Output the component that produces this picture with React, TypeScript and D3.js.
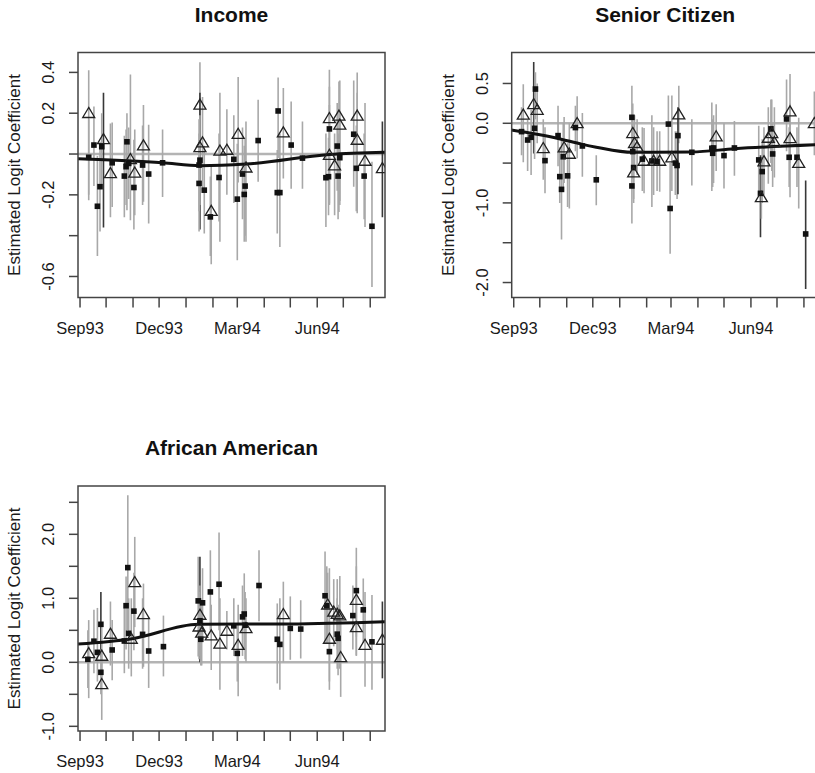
import React from "react";
import * as d3 from "d3";

type P = [string, number, number, number, string, number];

// [date, estimate, lower, upper, shape (s = filled square, t = open triangle), darkBar]
const incomePoints: P[] = [
  ["1993-09-11", 0.2, -0.226, 0.41, "t", 0],
  ["1993-09-11", -0.016, -0.2, 0.17, "s", 0],
  ["1993-09-17", 0.044, -0.157, 0.233, "s", 0],
  ["1993-09-21", -0.256, -0.5, -0.01, "s", 0],
  ["1993-09-24", -0.16, -0.38, 0.06, "s", 0],
  ["1993-09-28", 0.072, -0.36, 0.3, "t", 1],
  ["1993-09-26", 0.036, -0.15, 0.2, "s", 0],
  ["1993-10-06", -0.095, -0.31, 0.15, "t", 0],
  ["1993-10-08", -0.043, -0.26, 0.155, "s", 0],
  ["1993-10-22", -0.108, -0.31, 0.09, "s", 0],
  ["1993-10-25", 0.06, -0.275, 0.2, "s", 0],
  ["1993-10-24", -0.062, -0.25, 0.12, "s", 0],
  ["1993-10-29", -0.026, -0.325, 0.39, "t", 0],
  ["1993-10-27", -0.046, -0.22, 0.13, "s", 0],
  ["1993-11-03", -0.092, -0.3, 0.12, "t", 0],
  ["1993-11-02", -0.164, -0.37, 0.07, "s", 0],
  ["1993-11-13", 0.041, -0.234, 0.24, "t", 0],
  ["1993-11-12", -0.054, -0.25, 0.14, "s", 0],
  ["1993-11-19", -0.098, -0.34, 0.143, "s", 0],
  ["1993-12-05", -0.043, -0.21, 0.12, "s", 0],
  ["1994-01-17", 0.241, -0.02, 0.45, "t", 0],
  ["1994-01-17", 0.033, -0.37, 0.3, "t", 1],
  ["1994-01-20", 0.056, -0.18, 0.28, "t", 0],
  ["1994-01-16", -0.144, -0.38, 0.1, "s", 0],
  ["1994-01-16", -0.054, -0.28, 0.17, "s", 0],
  ["1994-01-17", -0.03, -0.25, 0.19, "s", 0],
  ["1994-01-22", -0.177, -0.39, 0.04, "s", 0],
  ["1994-01-30", -0.28, -0.54, -0.05, "t", 0],
  ["1994-01-29", -0.308, -0.5, -0.11, "s", 0],
  ["1994-02-09", 0.016, -0.43, 0.3, "t", 0],
  ["1994-02-08", -0.115, -0.33, 0.1, "s", 0],
  ["1994-02-17", 0.02, -0.2, 0.22, "t", 0],
  ["1994-02-25", -0.026, -0.24, 0.19, "s", 0],
  ["1994-03-02", 0.098, -0.14, 0.377, "t", 0],
  ["1994-03-01", -0.221, -0.52, 0.05, "s", 0],
  ["1994-03-07", -0.098, -0.32, 0.13, "s", 0],
  ["1994-03-11", -0.067, -0.43, 0.16, "t", 0],
  ["1994-03-09", -0.198, -0.43, 0.04, "s", 0],
  ["1994-03-10", -0.157, -0.4, 0.08, "s", 0],
  ["1994-03-25", 0.066, -0.136, 0.266, "s", 0],
  ["1994-04-17", 0.211, -0.02, 0.375, "s", 0],
  ["1994-04-16", -0.189, -0.39, 0.02, "s", 0],
  ["1994-04-19", -0.189, -0.456, 0.1, "s", 0],
  ["1994-04-23", 0.105, -0.12, 0.323, "t", 0],
  ["1994-05-02", 0.044, -0.17, 0.257, "s", 0],
  ["1994-05-15", -0.02, -0.17, 0.16, "s", 0],
  ["1994-06-11", -0.116, -0.357, 0.1, "s", 0],
  ["1994-06-14", -0.111, -0.3, 0.08, "s", 0],
  ["1994-06-15", 0.175, -0.243, 0.413, "t", 0],
  ["1994-06-15", 0.123, -0.1, 0.33, "s", 0],
  ["1994-06-15", -0.005, -0.25, 0.24, "t", 0],
  ["1994-06-21", -0.057, -0.3, 0.1, "t", 0],
  ["1994-06-26", 0.187, -0.284, 0.356, "t", 0],
  ["1994-06-27", 0.143, -0.25, 0.36, "t", 0],
  ["1994-06-24", 0.039, -0.18, 0.25, "s", 0],
  ["1994-06-25", -0.108, -0.32, 0.1, "s", 0],
  ["1994-06-27", -0.018, -0.23, 0.2, "s", 0],
  ["1994-07-17", 0.187, -0.29, 0.4, "t", 0],
  ["1994-07-13", 0.097, -0.16, 0.36, "s", 0],
  ["1994-07-17", 0.069, -0.16, 0.3, "t", 0],
  ["1994-07-16", -0.07, -0.28, 0.14, "s", 0],
  ["1994-07-26", -0.034, -0.357, 0.25, "t", 0],
  ["1994-07-25", -0.108, -0.32, 0.1, "s", 0],
  ["1994-08-03", -0.354, -0.652, -0.038, "s", 0],
  ["1994-08-15", -0.07, -0.31, 0.16, "t", 1],
];

const seniorPoints: P[] = [
  ["1993-09-12", 0.105, -0.49, 0.49, "t", 0],
  ["1993-09-10", -0.105, -0.4, 0.2, "s", 0],
  ["1993-09-17", -0.21, -0.6, 0.04, "s", 0],
  ["1993-09-21", -0.176, -0.65, 0.17, "s", 0],
  ["1993-09-24", 0.238, -0.38, 0.77, "t", 1],
  ["1993-09-26", 0.43, 0.05, 0.64, "s", 0],
  ["1993-09-28", 0.167, -0.25, 0.5, "t", 0],
  ["1993-09-25", -0.063, -0.45, 0.3, "s", 0],
  ["1993-10-05", -0.314, -0.71, 0.05, "t", 0],
  ["1993-10-07", -0.469, -0.88, -0.05, "s", 0],
  ["1993-10-22", -0.155, -0.54, 0.22, "s", 0],
  ["1993-10-24", -0.67, -1.0, -0.3, "s", 0],
  ["1993-10-26", -0.83, -1.46, -0.2, "s", 0],
  ["1993-10-29", -0.305, -0.75, 0.08, "t", 0],
  ["1993-10-28", -0.42, -0.85, 0.0, "s", 0],
  ["1993-11-04", -0.385, -1.07, 0.0, "t", 0],
  ["1993-11-02", -0.66, -1.05, -0.25, "s", 0],
  ["1993-11-13", 0.0, -0.44, 0.34, "t", 0],
  ["1993-11-11", -0.054, -0.35, 0.22, "s", 0],
  ["1993-11-19", -0.285, -0.67, 0.13, "s", 0],
  ["1993-12-05", -0.71, -1.03, -0.4, "s", 0],
  ["1994-01-15", 0.075, -0.3, 0.47, "s", 0],
  ["1994-01-16", -0.125, -0.5, 0.25, "t", 0],
  ["1994-01-18", -0.25, -0.6, 0.1, "t", 0],
  ["1994-01-21", -0.3, -0.65, 0.05, "t", 0],
  ["1994-01-16", -0.356, -0.7, 0.0, "s", 0],
  ["1994-01-17", -0.556, -0.95, -0.15, "s", 0],
  ["1994-01-17", -0.62, -1.0, -0.25, "t", 0],
  ["1994-01-15", -0.787, -1.26, -0.33, "s", 0],
  ["1994-01-29", -0.473, -0.88, -0.06, "t", 0],
  ["1994-01-27", -0.45, -0.85, -0.05, "s", 0],
  ["1994-02-07", -0.473, -1.05, 0.1, "s", 0],
  ["1994-02-09", -0.473, -0.9, -0.05, "t", 0],
  ["1994-02-16", -0.473, -0.86, -0.1, "t", 0],
  ["1994-02-13", -0.48, -0.85, -0.1, "s", 0],
  ["1994-03-02", -0.43, -0.85, 0.35, "t", 0],
  ["1994-02-28", -1.07, -1.64, -0.5, "s", 0],
  ["1994-02-26", -0.01, -0.4, 0.35, "s", 0],
  ["1994-03-06", -0.5, -0.9, -0.1, "s", 0],
  ["1994-03-08", -0.53, -0.95, -0.1, "s", 0],
  ["1994-03-10", 0.109, -0.25, 0.47, "t", 0],
  ["1994-03-09", -0.155, -0.89, 0.2, "s", 1],
  ["1994-03-25", -0.364, -0.78, 0.05, "s", 0],
  ["1994-04-17", -0.314, -0.85, 0.26, "s", 0],
  ["1994-04-18", -0.377, -0.8, 0.05, "s", 0],
  ["1994-04-22", -0.167, -0.6, 0.24, "t", 0],
  ["1994-04-19", -0.31, -0.75, 0.1, "s", 0],
  ["1994-05-01", -0.406, -0.82, 0.0, "s", 0],
  ["1994-05-13", -0.31, -0.66, 0.03, "s", 0],
  ["1994-06-10", -0.46, -0.9, -0.03, "s", 0],
  ["1994-06-14", -0.607, -1.0, -0.2, "s", 0],
  ["1994-06-12", -0.88, -1.43, -0.4, "s", 1],
  ["1994-06-13", -0.93, -1.2, -0.6, "t", 0],
  ["1994-06-16", -0.48, -0.9, -0.05, "t", 0],
  ["1994-06-21", -0.184, -0.76, 0.2, "t", 0],
  ["1994-06-24", -0.07, -0.5, 0.3, "s", 0],
  ["1994-06-25", -0.126, -0.6, 0.3, "t", 0],
  ["1994-06-28", -0.24, -0.68, 0.2, "t", 0],
  ["1994-06-26", -0.385, -0.8, 0.0, "s", 0],
  ["1994-07-12", 0.054, -0.35, 0.55, "s", 0],
  ["1994-07-16", 0.146, -0.5, 0.62, "t", 0],
  ["1994-07-16", -0.188, -0.93, 0.25, "t", 0],
  ["1994-07-15", -0.427, -0.8, -0.05, "s", 0],
  ["1994-07-24", -0.427, -0.8, -0.05, "s", 0],
  ["1994-07-26", -0.5, -1.07, 0.07, "t", 0],
  ["1994-08-03", -1.39, -2.08, -0.72, "s", 1],
  ["1994-08-13", 0.0, -0.4, 0.4, "t", 0],
];

const africanPoints: P[] = [
  ["1993-09-11", 0.14, -0.56, 0.66, "t", 0],
  ["1993-09-10", 0.047, -0.4, 0.5, "s", 0],
  ["1993-09-17", 0.33, -0.17, 0.82, "s", 0],
  ["1993-09-21", 0.156, -0.3, 0.85, "s", 0],
  ["1993-09-25", 0.594, 0.08, 1.1, "s", 1],
  ["1993-09-26", 0.1, -0.3, 0.55, "t", 0],
  ["1993-09-25", -0.156, -0.5, 0.2, "s", 0],
  ["1993-09-26", -0.344, -0.9, 0.2, "t", 0],
  ["1993-10-06", 0.443, -0.05, 0.95, "t", 0],
  ["1993-10-08", 0.193, -0.28, 0.66, "s", 0],
  ["1993-10-22", 0.333, -0.17, 0.85, "s", 0],
  ["1993-10-24", 0.885, 0.2, 1.34, "s", 0],
  ["1993-10-26", 1.48, 0.5, 2.61, "s", 0],
  ["1993-10-27", 0.453, -0.1, 1.0, "s", 0],
  ["1993-10-30", 0.365, -0.22, 1.0, "t", 0],
  ["1993-11-03", 1.25, 0.55, 1.96, "t", 0],
  ["1993-11-02", 0.8, 0.19, 1.4, "s", 0],
  ["1993-11-13", 0.75, -0.07, 1.23, "t", 0],
  ["1993-11-12", 0.437, -0.1, 1.0, "s", 0],
  ["1993-11-19", 0.177, -0.4, 0.71, "s", 0],
  ["1993-12-06", 0.245, -0.22, 0.73, "s", 0],
  ["1994-01-15", 0.96, 0.09, 1.65, "s", 0],
  ["1994-01-17", 0.74, 0.0, 1.65, "t", 1],
  ["1994-01-16", 0.557, 0.05, 1.1, "t", 0],
  ["1994-01-17", 0.65, 0.1, 1.2, "s", 0],
  ["1994-01-18", 0.36, -0.05, 0.8, "s", 0],
  ["1994-01-20", 0.93, 0.4, 1.47, "s", 0],
  ["1994-01-19", 0.46, -0.05, 1.0, "t", 0],
  ["1994-01-30", 0.417, -0.12, 0.9, "t", 0],
  ["1994-01-29", 1.1, 0.5, 1.75, "s", 0],
  ["1994-02-09", 0.29, -0.43, 1.0, "t", 0],
  ["1994-02-08", 1.22, 0.5, 2.03, "s", 0],
  ["1994-02-17", 0.49, 0.2, 0.8, "t", 0],
  ["1994-02-25", 0.57, 0.1, 1.0, "s", 0],
  ["1994-03-02", 0.27, -0.53, 0.9, "t", 0],
  ["1994-03-01", 0.14, -0.3, 0.6, "s", 0],
  ["1994-03-07", 0.71, 0.1, 1.2, "s", 0],
  ["1994-03-09", 0.755, 0.2, 1.39, "s", 0],
  ["1994-03-11", 0.53, 0.0, 1.0, "t", 0],
  ["1994-03-10", 0.58, 0.05, 1.1, "s", 0],
  ["1994-03-26", 1.2, 0.64, 1.75, "s", 0],
  ["1994-04-16", 0.36, -0.33, 0.92, "s", 0],
  ["1994-04-19", 0.28, -0.43, 1.0, "s", 0],
  ["1994-04-23", 0.75, 0.0, 1.26, "t", 0],
  ["1994-05-01", 0.53, 0.04, 1.03, "s", 0],
  ["1994-05-13", 0.52, 0.06, 0.97, "s", 0],
  ["1994-06-10", 1.04, 0.3, 1.73, "s", 0],
  ["1994-06-12", 0.885, 0.3, 1.5, "s", 0],
  ["1994-06-13", 0.9, 0.3, 1.4, "t", 0],
  ["1994-06-15", 0.167, -0.3, 0.65, "s", 0],
  ["1994-06-15", 0.365, -0.43, 1.47, "t", 0],
  ["1994-06-20", 0.79, 0.25, 1.3, "t", 0],
  ["1994-06-24", 0.755, 0.2, 1.3, "t", 0],
  ["1994-06-27", 0.73, -0.1, 1.35, "t", 0],
  ["1994-06-24", 0.44, -0.1, 1.0, "s", 0],
  ["1994-06-25", 0.375, -0.2, 0.9, "s", 0],
  ["1994-06-28", 0.078, -0.54, 0.65, "t", 0],
  ["1994-07-12", 0.73, 0.2, 1.2, "s", 0],
  ["1994-07-16", 1.12, 0.11, 1.79, "s", 0],
  ["1994-07-16", 0.974, 0.4, 1.5, "t", 0],
  ["1994-07-16", 0.547, 0.1, 1.0, "t", 0],
  ["1994-07-24", 0.82, 0.3, 1.31, "s", 0],
  ["1994-07-26", 0.27, -0.38, 1.1, "t", 0],
  ["1994-08-03", 0.32, -0.43, 1.05, "s", 0],
  ["1994-08-15", 0.35, -0.25, 0.95, "t", 1],
];

// smoothed trend lines [date, value]
const incomeTrend: [string, number][] = [
  ["1993-08-29", -0.023], ["1993-12-05", -0.043], ["1994-01-17", -0.057],
  ["1994-03-11", -0.049], ["1994-06-15", -0.002], ["1994-08-18", 0.009],
];
const seniorTrend: [string, number][] = [
  ["1993-08-29", -0.085], ["1993-10-22", -0.19], ["1993-11-19", -0.265],
  ["1993-12-05", -0.3], ["1994-01-16", -0.365], ["1994-03-25", -0.36],
  ["1994-05-13", -0.32], ["1994-08-18", -0.268],
];
const africanTrend: [string, number][] = [
  ["1993-08-29", 0.285], ["1993-10-31", 0.37], ["1994-01-15", 0.595],
  ["1994-05-01", 0.6], ["1994-08-18", 0.635],
];

const incomeYTicks = [0.4, 0.2, 0, -0.2, -0.4, -0.6];
const incomeYLabels = ["0.4", "0.2", "", "-0.2", "", "-0.6"];
const seniorYTicks = [0.5, 0, -0.5, -1, -1.5, -2];
const seniorYLabels = ["0.5", "0.0", "", "-1.0", "", "-2.0"];
const africanYTicks = [2.5, 2, 1.5, 1, 0.5, 0, -0.5, -1];
const africanYLabels = ["", "2.0", "", "1.0", "", "0.0", "", "-1.0"];
const xLabelMonths = ["Sep93", "Dec93", "Mar94", "Jun94"];

const parse = d3.timeParse("%Y-%m-%d");
const parseH = d3.timeParse("%Y-%m-%d %H");
const xDomain = [parseH("1993-08-29 16")!, parseH("1994-08-18 00")!];
const fmt = d3.timeFormat("%b%y");
const FONT = "'Liberation Sans', Arial, Helvetica, sans-serif";

type Cfg = {
  id: string;
  title: string;
  points: P[];
  trend: [string, number][];
  yDomain: [number, number];
  yTicks: number[];
  yLabels: string[];
  left: number;
  top: number;
};

const W = 307;
const H = 245;

function Panel({ cfg }: { cfg: Cfg }) {
  const { left, top } = cfg;
  const x = d3.scaleTime().domain(xDomain).range([left, left + W]);
  const y = d3.scaleLinear().domain(cfg.yDomain).range([top + H, top]);
  const months = d3.timeMonth.range(new Date(1993, 8, 1), new Date(1994, 8, 1));
  const line = d3
    .line<[string, number]>()
    .x((d) => x(parse(d[0])!))
    .y((d) => y(d[1]))
    .curve(d3.curveMonotoneX);
  const bottom = top + H;
  const cx = left + W / 2;
  const cy = top + H / 2;
  const tri = (px: number, py: number) =>
    `M${px},${py - 5.8}L${px + 6},${py + 4.3}L${px - 6},${py + 4.3}Z`;
  return (
    <g>
      <defs>
        <clipPath id={cfg.id}>
          <rect x={left} y={top} width={W} height={H} />
        </clipPath>
      </defs>
      <text x={cx} y={top - 31} textAnchor="middle" fontFamily={FONT} fontWeight="bold" fontSize={21} fill="#111">
        {cfg.title}
      </text>
      <g clipPath={`url(#${cfg.id})`}>
        <line x1={left} x2={left + W} y1={y(0)} y2={y(0)} stroke="#b4b4b4" strokeWidth={2.5} />
        {cfg.points.map((p, i) => {
          const px = x(parse(p[0])!);
          return (
            <line key={"b" + i} x1={px} x2={px} y1={y(p[2])} y2={y(p[3])}
              stroke={p[5] ? "#383838" : "#a8a8a8"} strokeWidth={1.6} />
          );
        })}
        <path d={line(cfg.trend) || ""} fill="none" stroke="#111" strokeWidth={3} />
        {cfg.points.map((p, i) => {
          const px = x(parse(p[0])!);
          const py = y(p[1]);
          return p[4] === "s" ? (
            <rect key={"m" + i} x={px - 2.8} y={py - 2.8} width={5.6} height={5.6} fill="#111" />
          ) : (
            <path key={"m" + i} d={tri(px, py)} fill="none" stroke="#222" strokeWidth={1.3} />
          );
        })}
      </g>
      <rect x={left} y={top} width={W} height={H} fill="none" stroke="#444" strokeWidth={1.5} />
      {months.map((m, i) => {
        const px = x(m);
        const lab = fmt(m);
        return (
          <g key={"x" + i}>
            <line x1={px} x2={px} y1={bottom} y2={bottom + 10} stroke="#444" strokeWidth={1.5} />
            {xLabelMonths.includes(lab) && (
              <text x={px} y={bottom + 36} textAnchor="middle" fontFamily={FONT} fontSize={16.5} fill="#1a1a1a">
                {lab}
              </text>
            )}
          </g>
        );
      })}
      {cfg.yTicks.map((t, i) => {
        const py = y(t);
        return (
          <g key={"y" + i}>
            <line x1={left - 9} x2={left} y1={py} y2={py} stroke="#444" strokeWidth={1.5} />
            {cfg.yLabels[i] && (
              <text transform={`translate(${left - 24},${py}) rotate(-90)`} textAnchor="middle"
                fontFamily={FONT} fontSize={16.5} fill="#1a1a1a">
                {cfg.yLabels[i]}
              </text>
            )}
          </g>
        );
      })}
      <text transform={`translate(${left - 58},${cy}) rotate(-90)`} textAnchor="middle"
        fontFamily={FONT} fontSize={17} fill="#1a1a1a">
        Estimated Logit Coefficient
      </text>
    </g>
  );
}

const panels: Cfg[] = [
  { id: "c1", title: "Income", points: incomePoints, trend: incomeTrend, yDomain: [-0.703, 0.4975],
    yTicks: incomeYTicks, yLabels: incomeYLabels, left: 78, top: 52.5 },
  { id: "c2", title: "Senior Citizen", points: seniorPoints, trend: seniorTrend, yDomain: [-2.188, 0.889],
    yTicks: seniorYTicks, yLabels: seniorYLabels, left: 511.7, top: 52.5 },
  { id: "c3", title: "African American", points: africanPoints, trend: africanTrend, yDomain: [-1.073, 2.755],
    yTicks: africanYTicks, yLabels: africanYLabels, left: 78, top: 486 },
];

export default function App() {
  return (
    <svg width={815} height={773} style={{ position: "absolute", left: 0, top: 0, background: "#fff" }}>
      <rect width={815} height={773} fill="#fff" />
      {panels.map((c) => (
        <Panel key={c.id} cfg={c} />
      ))}
    </svg>
  );
}
